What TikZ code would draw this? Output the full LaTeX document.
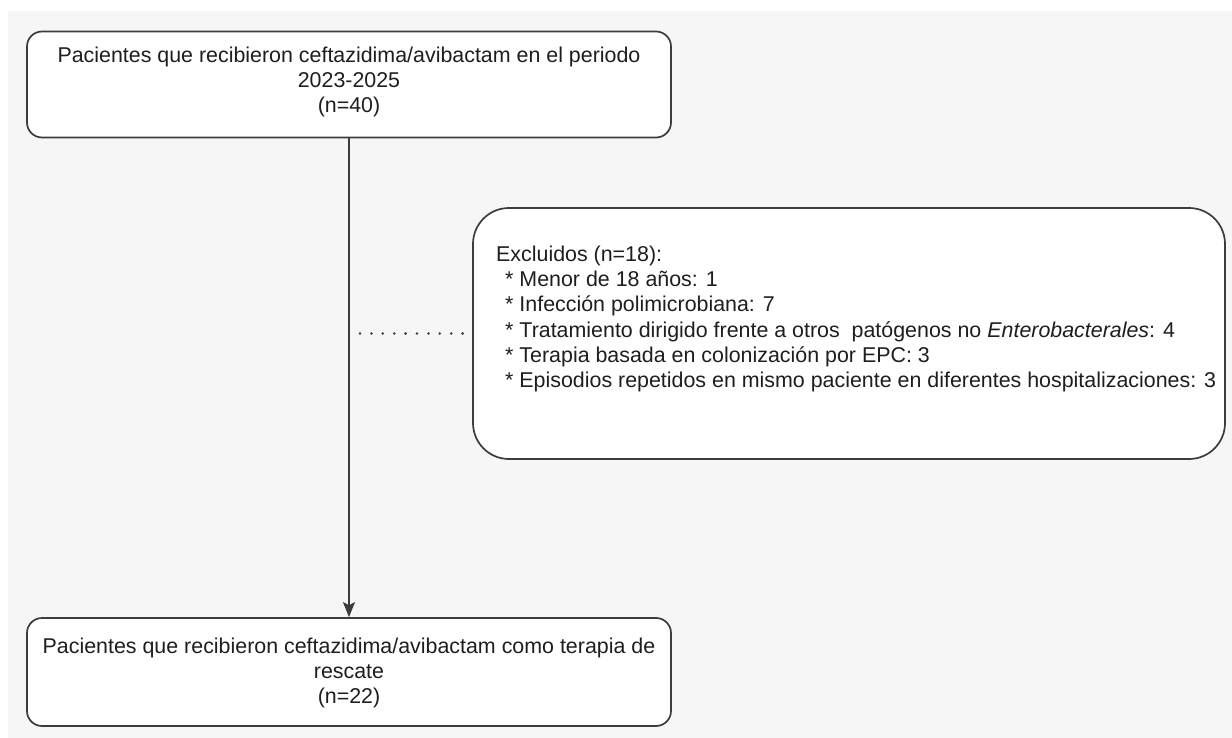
\documentclass[tikz,border=0pt]{standalone}
\usepackage{fontspec}
\setmainfont{Liberation Sans}
\usetikzlibrary{arrows.meta}
\definecolor{bgray}{HTML}{F6F6F6}
\definecolor{edgec}{HTML}{3C3C3C}
\definecolor{txtc}{HTML}{1E1E1E}
\tikzset{
  box/.style={draw=edgec, line width=1.7pt, fill=white, rounded corners=15pt, inner sep=0pt},
  bigbox/.style={box, rounded corners=36pt},
  lbl/.style={text=txtc, font=\fontsize{21.4}{25.2}\selectfont, inner sep=0pt},
  flow/.style={draw=edgec, line width=1.4pt, -{Stealth[length=15pt,width=12pt,inset=3pt]}},
  dotline/.style={draw=edgec, line width=2.8pt, line cap=round, dash pattern=on 0pt off 11.4pt}
}
\begin{document}
\begin{tikzpicture}[x=1pt,y=-1pt]
\useasboundingbox (0,0) rectangle (1232,738);
\fill[bgray] (8,11) rectangle (1232,738);
% top box
\node[box, minimum width=644pt, minimum height=106pt] (top) at (349,84.5) {};
\node[lbl, align=center] (toptext) at (349,82) {Pacientes que recibieron ceftazidima/avibactam en el periodo\\2023-2025\\(n=40)};
% bottom box
\node[box, minimum width=644pt, minimum height=108pt] (bot) at (349,672) {};
\node[lbl, align=center] (bottext) at (349,673) {Pacientes que recibieron ceftazidima/avibactam como terapia de\\rescate\\(n=22)};
% excluded box
\node[bigbox, minimum width=752pt, minimum height=251pt] (excl) at (849,333.5) {};
\node[lbl, align=left, anchor=west] (excltext) at (496,319) {Excluidos (n=18):\\
\hspace*{9pt}* Menor de 18 años: 1\\
\hspace*{9pt}* Infección polimicrobiana: 7\\
\hspace*{9pt}* Tratamiento dirigido frente a otros\ \ patógenos no \textit{Enterobacterales}: 4\\
\hspace*{9pt}* Terapia basada en colonización por EPC: 3\\
\hspace*{9pt}* Episodios repetidos en mismo paciente en diferentes hospitalizaciones: 3};
% connectors
\draw[flow] (top.south) -- (bot.north);
\coordinate (junc) at (top.south |- excl.west);
\draw[dotline] ([xshift=11pt]junc) -- ([xshift=-4pt]excl.west);
\end{tikzpicture}
\end{document}
